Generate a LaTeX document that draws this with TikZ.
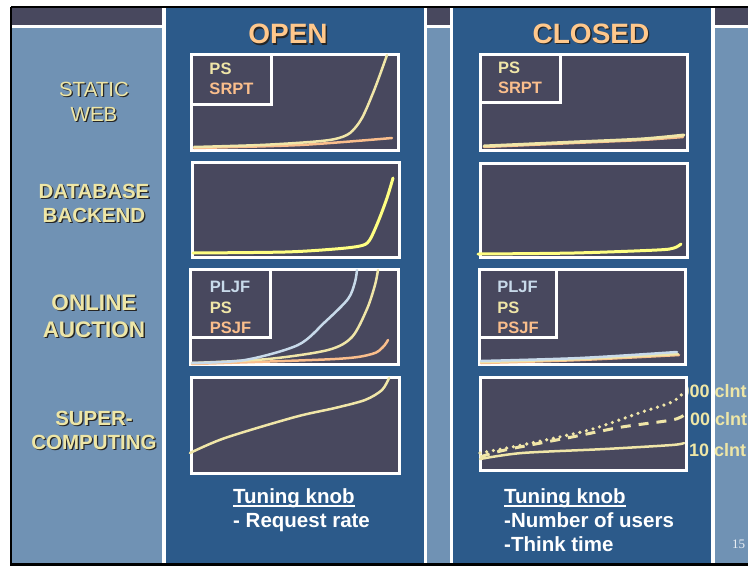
\documentclass[tikz,border=0pt]{standalone}
\usepackage{fontspec}
\setmainfont{Liberation Sans}
\newfontfamily\pagefont{Liberation Serif}
\usepackage{xcolor}

\definecolor{panelblue}{RGB}{44,90,138}
\definecolor{colblue}{RGB}{112,146,180}
\definecolor{plotbg}{RGB}{72,72,94}
\definecolor{titleorange}{RGB}{255,200,140}
\definecolor{labelcream}{RGB}{238,230,166}
\definecolor{psyellow}{RGB}{240,230,168}
\definecolor{srptorange}{RGB}{250,190,140}
\definecolor{dbyellow}{RGB}{255,255,130}
\definecolor{pljfblue}{RGB}{200,218,234}

\newcommand{\shtxt}[1]{\makebox[0pt][l]{\raisebox{-1.3pt}{\hspace{1.3pt}\textcolor{black!85}{#1}}}#1}
\newcommand{\knobul}[1]{\setbox0\hbox{#1}\makebox[0pt][l]{\rule[-3pt]{\wd0}{2pt}}\box0}

\begin{document}
\begin{tikzpicture}[x=1pt,y=-1pt]
  \tikzstyle{plotbox}=[draw=white,line width=3pt,fill=plotbg,minimum width=207,minimum height=96,inner sep=0pt]
  \tikzstyle{legbox}=[draw=white,line width=3pt,fill=plotbg,anchor=north west,minimum width=80,minimum height=50,align=left,inner sep=0pt,font=\fontsize{16.5}{20.5}\selectfont\bfseries]
  \tikzstyle{rowlabel}=[text=labelcream,align=center,font=\fontsize{20.5}{24}\selectfont\bfseries]
  \tikzstyle{title}=[text=titleorange,font=\fontsize{28}{34}\selectfont\bfseries]
  \tikzstyle{knob}=[text=white,align=left,anchor=north west,inner sep=0pt,font=\fontsize{20.5}{24}\selectfont\bfseries]
  \tikzstyle{clnt}=[text=labelcream,anchor=base west,inner sep=0pt,font=\fontsize{18}{22}\selectfont\bfseries]
  \tikzstyle{curve}=[line width=2.5pt,line cap=round,line join=round]

  \useasboundingbox (0,0) rectangle (748,566);
  \clip (0,0) rectangle (748,566);

  % table background
  \fill[white] (0,0) rectangle (748,566);
  \fill[colblue] (11,7) rectangle (748,564);
  \fill[plotbg] (11,7) rectangle (748,25);
  \fill[white] (11,25) rectangle (748,28);

  % open / closed panels
  \fill[white] (162,7) rectangle (427,564);
  \fill[panelblue] (166,7) rectangle (424,564);
  \fill[white] (450,7) rectangle (715,564);
  \fill[panelblue] (453,7) rectangle (711,564);
  \draw[black,line width=2.5pt] (11,7) -- (11,564.5) -- (760,564.5);
  \draw[black,line width=1.5pt] (11,7) -- (760,7);

  \node[title] (open) at (288,35) {\shtxt{OPEN}};
  \node[title] (closed) at (591,34.5) {\shtxt{CLOSED}};

  \node[rowlabel,font=\fontsize{20.5}{25}\selectfont] (web) at (94,102.5) {\shtxt{STATIC}\\\shtxt{WEB}};
  \node[rowlabel] (db) at (94,204) {\shtxt{DATABASE}\\\shtxt{BACKEND}};
  \node[rowlabel,font=\fontsize{22.5}{27}\selectfont\bfseries] (auc) at (94,316.5) {\shtxt{ONLINE}\\\shtxt{AUCTION}};
  \node[rowlabel,font=\fontsize{20.5}{23.5}\selectfont\bfseries] (sup) at (94,431) {\shtxt{SUPER-}\\\shtxt{COMPUTING}};

  % client labels (partly under the plot)
  \node[clnt] (c1000) at (679.5,397) {000 clnt};
  \node[clnt] (c100) at (690,425) {00 clnt};
  \node[clnt] (c10) at (689,456) {10 clnt};

  % plots
  \node[plotbox] (oweb) at (295,102) {};
  \node[plotbox] (cweb) at (583.5,102) {};
  \node[plotbox,minimum height=95] (odb) at (295.5,210) {};
  \node[plotbox,minimum height=94] (cdb) at (584,210.5) {};
  \node[plotbox,minimum width=208,minimum height=95] (oauc) at (294.5,317) {};
  \node[plotbox,minimum width=206,minimum height=95] (cauc) at (582.5,317) {};
  \node[plotbox,minimum width=208] (osup) at (295.5,425.5) {};
  \node[plotbox,minimum width=206,minimum height=93] (csup) at (583.5,424) {};

  % static web
  \draw[curve,srptorange] plot[smooth] coordinates {(194,148) (300,145) (392,138)};
  \draw[curve,psyellow] plot[smooth] coordinates {(194,147) (260,145) (310,142) (335,139) (350,133) (362,118) (375,88) (387,55)};
  \draw[curve,srptorange] plot[smooth] coordinates {(484,147) (574,143) (641,140) (683,137)};
  \draw[curve,psyellow,line width=3pt] plot[smooth] coordinates {(484,146) (574,142) (641,139) (684,135)};

  % database backend
  \draw[curve,dbyellow,line width=3pt] plot[smooth] coordinates {(193,253) (285,252) (335,249) (360,246) (369,241) (378,222) (387,198) (393,178)};
  \draw[curve,dbyellow,line width=3pt] plot[smooth] coordinates {(478,254) (574,253) (657,250) (674,248) (681,244)};

  % online auction
  \draw[curve,srptorange] plot[smooth] coordinates {(192,364) (335,359) (372,354) (383,347) (388,340)};
  \draw[curve,psyellow] plot[smooth] coordinates {(192,363) (268,359) (328,350) (352,337) (367,309) (375,285) (378,270)};
  \draw[curve,pljfblue] plot[smooth] coordinates {(192,363) (245,360) (298,345) (325,322) (348,299) (355,282) (357,270)};
  \draw[curve,srptorange] plot[smooth] coordinates {(481,363) (580,360) (679,355)};
  \draw[curve,psyellow] plot[smooth] coordinates {(481,362) (580,359) (678,354)};
  \draw[curve,pljfblue] plot[smooth] coordinates {(481,361) (580,358) (677,352)};

  % supercomputing
  \draw[curve,psyellow] plot[smooth] coordinates {(190,453) (225,438) (295,417) (335,408) (365,400) (382,390) (389,378)};
  \draw[curve,psyellow] plot[smooth] coordinates {(480,459) (522,453) (605,449) (672,445) (684,443)};
  \draw[curve,psyellow,line width=3pt,line cap=butt,dash pattern=on 10pt off 8pt] plot[smooth] coordinates {(480,457) (505,450) (572,437) (622,427) (672,420) (684,415)};
  \draw[curve,psyellow,line width=3.6pt,dash pattern=on 0pt off 6.8pt] plot[smooth] coordinates {(480,453) (522,445) (589,430) (639,413) (672,402) (684,392)};

  % legends
  \node[legbox] (owebkey) at (oweb.north west) {\textcolor{psyellow}{PS}\\\textcolor{srptorange}{SRPT}};
  \node[legbox,minimum height=48] (cwebkey) at (cweb.north west) {\textcolor{psyellow}{PS}\\\textcolor{srptorange}{SRPT}};
  \node[legbox,minimum height=68] (oauckey) at (oauc.north west) {\rule{0pt}{19.5pt}\textcolor{pljfblue}{PLJF}\\\textcolor{psyellow}{PS}\\\textcolor{srptorange}{PSJF}};
  \node[legbox,minimum width=77,minimum height=68] (cauckey) at (cauc.north west) {\rule{0pt}{19.5pt}\textcolor{pljfblue}{PLJF}\\\textcolor{psyellow}{PS}\\\textcolor{srptorange}{PSJF}};

  \node[knob] (oknob) at (233,488.5) {\knobul{Tuning knob}\\- Request rate};
  \node[knob] (cknob) at (504,488.5) {\knobul{Tuning knob}\\-Number of users\\-Think time};

  \node[anchor=base west,inner sep=0pt,text=white!85!colblue,font=\pagefont\fontsize{13}{15}\selectfont] (pnum) at (732,548) {15};
\end{tikzpicture}
\end{document}
